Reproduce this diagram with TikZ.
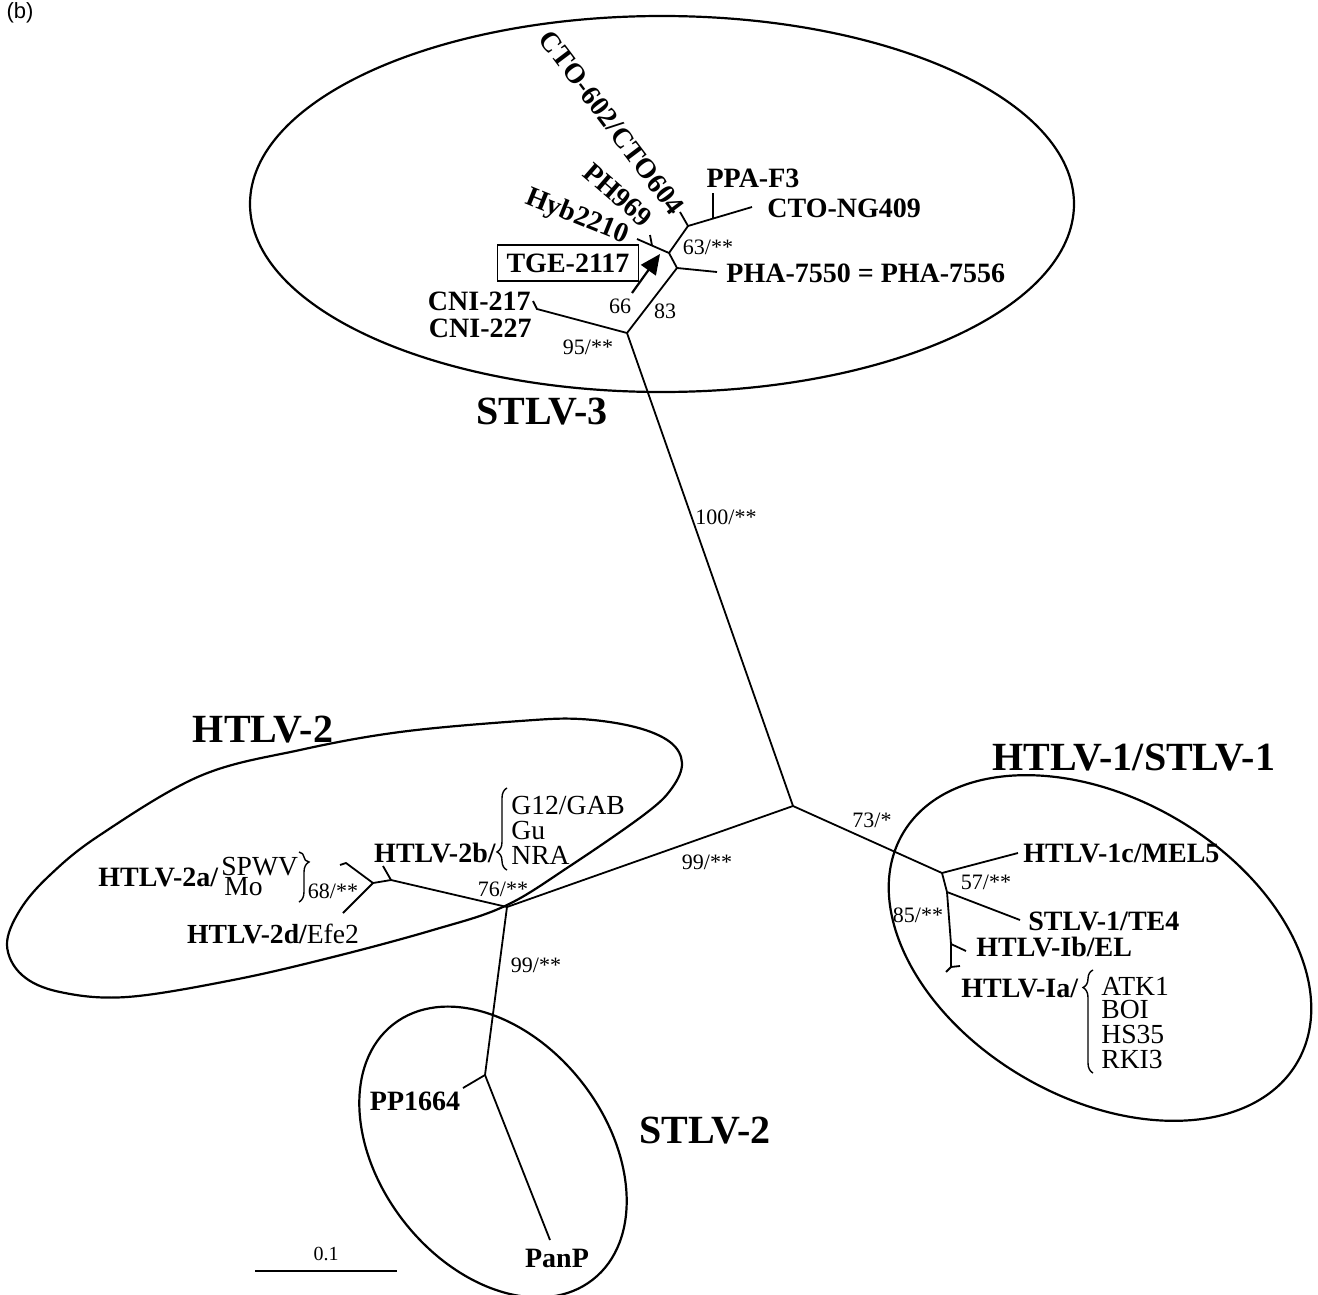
\documentclass[tikz,border=0pt]{standalone}
\usepackage{fontspec}
\setmainfont{Liberation Serif}
\setsansfont{Liberation Sans}
\usetikzlibrary{arrows.meta,decorations.pathreplacing}

\begin{document}
\begin{tikzpicture}[
    x=0.5pt, y=-0.5pt,
    every node/.style={inner sep=1pt},
    branch/.style={line width=0.9pt},
    ring/.style={line width=1.1pt},
    seq/.style={font=\bfseries\fontsize{14}{16}\selectfont},
    iso/.style={font=\fontsize{13.8}{15}\selectfont},
    boot/.style={font=\fontsize{11}{12}\selectfont},
    clade/.style={font=\bfseries\fontsize{20}{22}\selectfont},
    curly/.style={decorate,decoration={brace,amplitude=5pt,aspect=#1},line width=0.7pt}]

\useasboundingbox (0,0) rectangle (1318,1295);

\node[font=\sffamily\fontsize{11}{12}\selectfont] (panel) at (20,13) {(b)};

% clusters
\draw[ring] (662,204) ellipse [x radius=206pt, y radius=94pt];
\draw[ring] plot[smooth cycle,tension=0.6] coordinates {(7,945) (20,910) (50,875) (100,835) (200,776) (300,750) (400,732) (520,721) (580,719) (635,727) (670,742) (682,763) (672,788) (645,814) (570,866) (505,906) (433,930) (333,957) (233,980) (127,997) (60,992) (22,975)};
\draw[ring,rotate around={-30:(1100,948)}] (1100,948) ellipse [x radius=114pt, y radius=75pt];
\draw[ring,rotate around={-52:(493,1152)}] (493,1152) ellipse [x radius=81pt, y radius=56.5pt];

% STLV-3
\coordinate (root) at (793,806);
\coordinate (s3) at (627,333);
\coordinate (s3b) at (677,268);
\coordinate (s3c) at (669,253);
\coordinate (s3d) at (688,226);
\coordinate (cni) at (537,309);
\coordinate (cnitip) at (533,301);
\coordinate (pha) at (717,272);
\coordinate (hyb) at (637,239);
\coordinate (phj) at (652,245.5);
\coordinate (ph) at (650,235);
\coordinate (cto) at (680,212);
\coordinate (ppaj) at (713,218.5);
\coordinate (ppa) at (713,193);
\coordinate (ctong) at (752,207);
\coordinate (arr) at (632,293);
\coordinate (arrtip) at (660,254);

\draw[branch] (root) -- (s3) -- (cni) -- (cnitip);
\draw[branch] (s3) -- (s3b) -- (pha);
\draw[branch] (s3b) -- (s3c) -- (hyb);
\draw[branch] (phj) -- (ph);
\draw[branch] (s3c) -- (s3d) -- (cto);
\draw[branch] (s3d) -- (ctong);
\draw[branch] (ppaj) -- (ppa);
\draw[branch,line width=1.1pt,-{Triangle[length=10pt,width=9pt]}] (arr) -- (arrtip);

\node[seq] (ppaf3) at (753,178) {PPA-F3};
\node[seq,anchor=west] (ctong409) at (765,208) {CTO-NG409};
\node[seq,anchor=west] (pha7550) at (724,273) {PHA-7550 = PHA-7556};
\node[seq,anchor=east] (cni217) at (533,301) {CNI-217};
\node[seq,anchor=east] (cni227) at (534,328) {CNI-227};
\node[seq,draw,line width=0.7pt,inner xsep=4.4pt,inner ysep=4.3pt] (tge) at (568,263) {TGE-2117};
\node[seq,anchor=east,rotate=-53] (cto602) at (680,213) {CTO-602/CTO604};
\node[seq,anchor=east,rotate=-41] (ph969) at (650,223) {PH969};
\node[seq,anchor=east,rotate=-22] (hyb2210) at (629,238) {Hyb2210};

\node[boot] (b63) at (708,247) {63/**};
\node[boot] (b66) at (620,306) {66};
\node[boot] (b83) at (665,311) {83};
\node[boot] (b95) at (588,347) {95/**};
\node[boot] (b100) at (726,517) {100/**};
\node[clade] (stlv3) at (542,412) {STLV-3};

% HTLV-2
\coordinate (h2) at (507,907);
\coordinate (h2b) at (391,880);
\coordinate (h2bt) at (383,866);
\coordinate (h2a) at (373,883);
\coordinate (h2at) at (346,863);
\coordinate (h2at2) at (340,865);
\coordinate (h2d) at (343,913);

\draw[branch] (root) -- (h2) -- (h2b) -- (h2a) -- (h2at) -- (h2at2);
\draw[branch] (h2b) -- (h2bt);
\draw[branch] (h2a) -- (h2d);

\node[seq,anchor=west] (htlv2a) at (96,877) {HTLV-2a/};
\node[iso,anchor=west] (spwv) at (219,867) {SPWV};
\node[iso,anchor=west] (mo) at (222,887) {Mo};
\draw[curly=0.2] (299,852) -- (299,902);
\node[boot] (b68) at (333,891) {68/**};
\node[seq,anchor=east] (htlv2b) at (498,853) {HTLV-2b/};
\draw[curly=0.22] (507,870) -- (507,788);
\node[iso,anchor=west] (g12) at (509,805) {G12/GAB};
\node[iso,anchor=west] (gu) at (509,830) {Gu};
\node[iso,anchor=west] (nra) at (509,855) {NRA};
\node[iso] (htlv2d) at (273,934) {\bfseries HTLV-2d/\mdseries Efe2};
\node[boot] (b76) at (503,889) {76/**};
\node[boot] (b99a) at (707,862) {99/**};
\node[clade] (htlv2) at (263,730) {HTLV-2};

% STLV-2
\coordinate (s2) at (485,1075);
\coordinate (pp) at (463,1088);
\coordinate (panp) at (550,1240);

\draw[branch] (h2) -- (s2) -- (pp);
\draw[branch] (s2) -- (panp);

\node[seq] (pp1664) at (415,1101) {PP1664};
\node[seq] (panpl) at (557,1258) {PanP};
\node[boot] (b99b) at (536,965) {99/**};
\node[clade] (stlv2) at (705,1131) {STLV-2};

% HTLV-1/STLV-1
\coordinate (h1) at (942,873);
\coordinate (mel) at (1018,853);
\coordinate (h1b) at (947,892);
\coordinate (te4) at (1020,920);
\coordinate (h1c) at (951,944);
\coordinate (el) at (966,951);
\coordinate (h1d) at (951,967);
\coordinate (ia1) at (946,972);
\coordinate (ia2) at (960,966);

\draw[branch] (root) -- (h1) -- (mel);
\draw[branch] (h1) -- (h1b) -- (te4);
\draw[branch] (h1b) -- (h1c) -- (h1d) -- (ia1);
\draw[branch] (h1c) -- (el);
\draw[branch] (h1d) -- (ia2);

\node[seq,anchor=west] (mel5) at (1021,853) {HTLV-1c/MEL5};
\node[seq,anchor=west] (te4l) at (1026,921) {STLV-1/TE4};
\node[seq,anchor=west] (ibel) at (974,947) {HTLV-Ib/EL};
\node[seq,anchor=west] (htlv1a) at (959,988) {HTLV-Ia/};
\draw[curly=0.83] (1093,1073) -- (1093,970);
\node[iso,anchor=west] (atk1) at (1099,986) {ATK1};
\node[iso,anchor=west] (boi) at (1099,1009) {BOI};
\node[iso,anchor=west] (hs35) at (1099,1034) {HS35};
\node[iso,anchor=west] (rki3) at (1099,1059) {RKI3};
\node[boot] (b73) at (872,820) {73/*};
\node[boot] (b57) at (986,882) {57/**};
\node[boot] (b85) at (918,915) {85/**};
\node[clade] (htlv1) at (1134,758) {HTLV-1/STLV-1};

% scale
\coordinate (sc1) at (255,1271);
\coordinate (sc2) at (397,1271);
\draw[line width=0.9pt] (sc1) -- (sc2);
\node[boot,font=\fontsize{10}{11}\selectfont] (scale) at (326,1254) {0.1};

\end{tikzpicture}
\end{document}
